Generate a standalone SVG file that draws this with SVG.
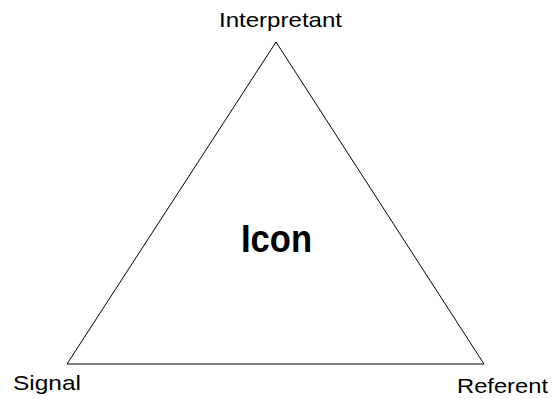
<svg xmlns="http://www.w3.org/2000/svg" width="553" height="399" viewBox="0 0 553 399">
<style>
.lbl{font-family:"Liberation Sans",Arial,sans-serif;font-size:21px;fill:#000}
.big{font-family:"Liberation Sans",Arial,sans-serif;font-size:38px;font-weight:bold;fill:#000}
</style>
<rect width="553" height="399" fill="#fff"/>
<g id="connectors">
<polygon points="276,42 67,364 484,364" fill="none" stroke="#000" stroke-width="1"/>
</g>
<g id="interpretant"><text class="lbl" x="219" y="27" textLength="123" lengthAdjust="spacingAndGlyphs">Interpretant</text></g>
<g id="signal"><text class="lbl" x="13" y="390" textLength="68" lengthAdjust="spacingAndGlyphs">Signal</text></g>
<g id="referent"><text class="lbl" x="457" y="393" textLength="91" lengthAdjust="spacingAndGlyphs">Referent</text></g>
<g id="icon"><text class="big" x="241" y="252" textLength="71" lengthAdjust="spacingAndGlyphs">Icon</text></g>
</svg>
